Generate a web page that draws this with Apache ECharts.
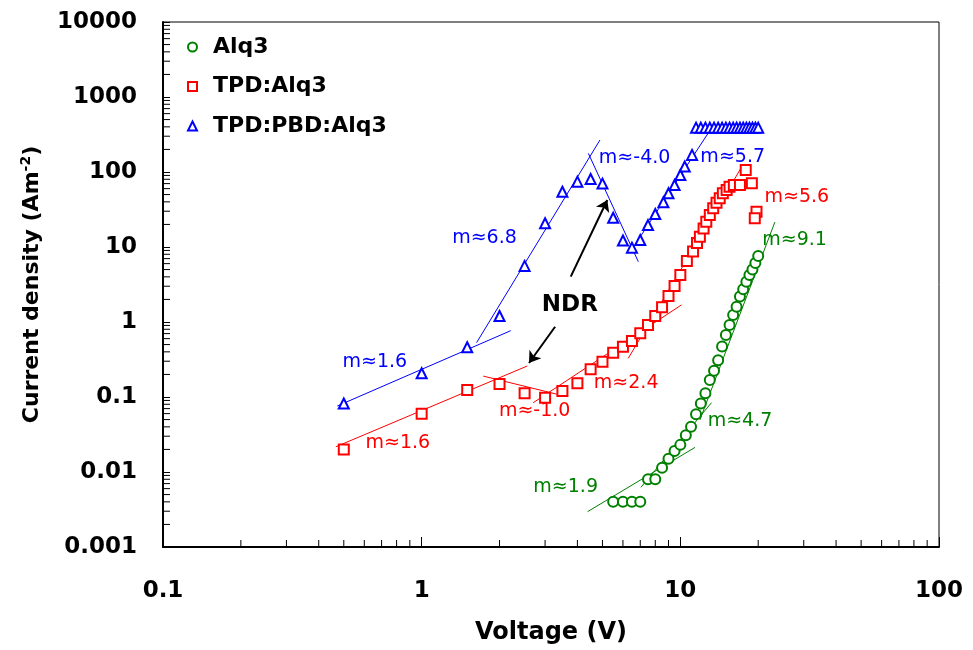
<!DOCTYPE html>
<html>
<head>
<meta charset="utf-8">
<script src="https://cdn.jsdelivr.net/npm/echarts@6/dist/echarts.min.js"></script>
<style>
  html, body { margin: 0; padding: 0; background: #fff; }
  #chart { width: 973px; height: 650px; }
</style>
</head>
<body>
<div id="chart"></div>
<script>
// data (V in volts, J in A/m^2)
const alq3V = [5.5, 6, 6.5, 7, 7.5, 8, 8.5, 9, 9.5, 10, 10.5, 11, 11.5, 12, 12.5, 13, 13.5, 14, 14.5, 15, 15.5, 16, 16.5, 17, 17.5, 18, 18.5, 19, 19.5, 20]
const alq3J = [0.004, 0.004, 0.004, 0.004, 0.008, 0.008, 0.0114, 0.015, 0.019, 0.023, 0.031, 0.040, 0.059, 0.082, 0.112, 0.168, 0.224, 0.31, 0.47, 0.67, 0.91, 1.24, 1.6, 2.18, 2.73, 3.45, 4.23, 5.0, 6.1, 7.6]

const tpdV = [0.5, 1, 1.5, 2, 2.5, 3, 3.5, 4, 4.5, 5, 5.5, 6, 6.5, 7, 7.5, 8, 8.5, 9, 9.5, 10, 10.6, 11.2, 11.6, 11.9, 12.3, 12.6, 13, 13.4, 13.8, 14.2, 14.6, 15.1, 15.5, 16.1, 17, 17.9, 18.9, 19.7, 19.4]
const tpdJ = [0.02, 0.06, 0.124, 0.149, 0.112, 0.098, 0.12, 0.152, 0.234, 0.296, 0.39, 0.469, 0.558, 0.707, 0.912, 1.2, 1.57, 2.22, 3.02, 4.23, 6.5, 8.7, 11.3, 13.7, 17.7, 21.7, 26.7, 32.8, 39, 44.6, 52, 57.5, 63.7, 67, 67, 106, 70.6, 29.6, 24.2]

const pbdV = [0.5, 1, 1.5, 2, 2.5, 3, 3.5, 4, 4.5, 5, 5.5, 6, 6.5, 7, 7.5, 8, 8.6, 9, 9.5, 10, 10.4, 11.1, 11.5, 12, 12.5, 13, 13.5, 14, 14.5, 15, 15.5, 16, 16.5, 17, 17.5, 18, 18.5, 19, 19.5, 20]
const pbdJ = [0.082, 0.207, 0.46, 1.2, 5.6, 20.7, 54.6, 74.3, 80.7, 70, 24.5, 12.2, 9.8, 12.4, 19.6, 27.5, 39.5, 52, 67, 91, 118, 169, 390, 390, 390, 390, 390, 390, 390, 390, 390, 390, 390, 390, 390, 390, 390, 390, 390, 390]

// fitted slope lines, pairs of [V, J]
const fitBlue = [[[0.472, 0.0759], [2.21, 0.766]], [[1.63, 0.53], [4.89, 267]], [[4.41, 177], [6.88, 6.37]], [[6.48, 9.12], [12.8, 328]]]
const fitRed = [[[0.466, 0.0217], [2.56, 0.259]], [[1.73, 0.19], [3.33, 0.109]], [[2.7, 0.084], [10.1, 1.69]], [[6.29, 0.328], [17.3, 118]]]
const fitGreen = [[[4.38, 0.00296], [11.4, 0.0213]], [[7.04, 0.00625], [13.2, 0.084]], [[11.9, 0.0494], [23.2, 21.5]]]

// slope notes: text, V, J (left edge of text)
const notesBlue = [['m≈1.6', 0.492, 0.293], ['m≈6.8', 1.306, 13.2], ['m≈-4.0', 4.82, 154], ['m≈5.7', 11.9, 156]]
const notesRed = [['m≈1.6', 0.604, 0.0244], ['m≈-1.0', 1.98, 0.065], ['m≈2.4', 4.61, 0.154], ['m≈5.6', 21.05, 46.4]]
const notesGreen = [['m≈1.9', 2.69, 0.0063], ['m≈4.7', 12.7, 0.0479], ['m≈9.1', 20.65, 12.4]]
const ndrAt = [3.74, 1.69]
const ndrArrows = [[[3.77, 4.02], [5.22, 42.4]], [[3.28, 0.865], [2.6, 0.284]]]

// axis ticks
const minorMult = [2, 3, 4, 5, 6, 7, 8, 9]
const xDecades = [0.1, 1, 10]
const yDecades = [0.001, 0.01, 0.1, 1, 10, 100, 1000]
const xMin = 0.1, xMax = 100, yMin = 0.001, yMax = 10000

const FONT = 'DejaVu Sans'
const GREEN = '#008000', RED = '#ff0000', BLUE = '#0000ff'

const zip = (a, b) => a.map((v, i) => [v, b[i]])
const minorOf = (decs) => {
    let out = []
    decs.forEach((d) => minorMult.forEach((m) => out.push(+(d * m).toPrecision(3))))
    return out
}
const fmt = (v) => {
    const e = Math.round(Math.log10(v))
    return e < 0 ? v.toFixed(-e) : String(Math.round(v))
}

const scatter = (name, symbol, color, data) => ({
    name: name,
    type: 'scatter',
    symbol: symbol,
    symbolSize: 10,
    itemStyle: { color: color, borderColor: color, borderWidth: 1.2, opacity: 1 },
    data: data,
    z: 3
})

const fits = (list, color) => list.map((seg) => ({
    type: 'line',
    data: seg,
    showSymbol: false,
    symbol: 'none',
    silent: true,
    lineStyle: { color: color, width: 1 },
    z: 2
}))

const notes = (list, color) => ({
    type: 'scatter',
    symbolSize: 1,
    silent: true,
    itemStyle: { color: 'transparent', opacity: 1 },
    label: {
        show: true,
        position: 'right',
        distance: 0,
        formatter: (p) => p.data.text,
        color: color,
        fontFamily: FONT,
        fontSize: 19
    },
    data: list.map((n) => ({ value: [n[1], n[2]], text: n[0] })),
    z: 4
})

let myChart = echarts.init(document.getElementById('chart'), null, { renderer: 'canvas' })

const option = {
    animation: false,
    backgroundColor: '#fff',
    grid: {
        left: 163, right: 34, top: 22, bottom: 103,
        show: true, borderColor: '#000', borderWidth: 1
    },
    legend: {
        data: ['Alq3', 'TPD:Alq3', 'TPD:PBD:Alq3'],
        orient: 'vertical',
        left: 187,
        top: 35,
        padding: 0,
        itemWidth: 9,
        itemHeight: 9,
        itemGap: 15.5,
        textStyle: {
            fontFamily: FONT, fontWeight: 'bold', fontSize: 22, lineHeight: 24, color: '#000',
            padding: [0, 0, 0, 11]
        }
    },
    xAxis: {
        type: 'log', logBase: 10, min: xMin, max: xMax,
        name: 'Voltage (V)', nameLocation: 'middle', nameGap: 74,
        nameTextStyle: { fontFamily: FONT, fontWeight: 'bold', fontSize: 24, color: '#000' },
        axisLine: { lineStyle: { color: '#000', width: 2 } },
        axisTick: { inside: true, length: 10, lineStyle: { color: '#000', width: 1 } },
        axisLabel: { margin: 33, formatter: fmt, fontFamily: FONT, fontWeight: 'bold', fontSize: 23, color: '#000' },
        splitLine: { show: false }
    },
    yAxis: {
        type: 'log', logBase: 10, min: yMin, max: yMax,
        name: 'Current density (Am{sup|-2})', nameLocation: 'middle', nameGap: 118, nameRotate: 90,
        nameTextStyle: {
            fontFamily: FONT, fontWeight: 'bold', fontSize: 22, color: '#000',
            rich: { sup: { fontFamily: FONT, fontWeight: 'bold', fontSize: 14, color: '#000', verticalAlign: 'top', lineHeight: 26 } }
        },
        axisLine: { lineStyle: { color: '#000', width: 2 } },
        axisTick: { inside: true, length: 7, lineStyle: { color: '#000', width: 1 } },
        axisLabel: { margin: 26, formatter: fmt, fontFamily: FONT, fontWeight: 'bold', fontSize: 23, color: '#000' },
        splitLine: { show: false }
    },
    series: [
        scatter('Alq3', 'emptyCircle', GREEN, zip(alq3V, alq3J)),
        scatter('TPD:Alq3', 'emptyRect', RED, zip(tpdV, tpdJ)),
        scatter('TPD:PBD:Alq3', 'emptyTriangle', BLUE, zip(pbdV, pbdJ)),
        ...fits(fitBlue, BLUE),
        ...fits(fitRed, RED),
        ...fits(fitGreen, GREEN),
        notes(notesBlue, BLUE),
        notes(notesRed, RED),
        notes(notesGreen, GREEN),
        {
            type: 'scatter',
            symbolSize: 1,
            silent: true,
            itemStyle: { color: 'transparent', opacity: 1 },
            label: {
                show: true, position: 'inside', formatter: 'NDR',
                fontFamily: FONT, fontWeight: 'bold', fontSize: 23, color: '#000'
            },
            data: [ndrAt],
            markLine: {
                silent: true,
                symbol: ['none', 'arrow'],
                symbolSize: 11,
                lineStyle: { color: '#000', width: 2, type: 'solid', opacity: 1 },
                label: { show: false },
                data: ndrArrows.map((a) => [{ coord: a[0] }, { coord: a[1] }])
            },
            z: 4
        },
        {
            // minor ticks on the voltage axis
            type: 'custom',
            silent: true,
            data: minorOf(xDecades).map((v) => [v, yMin]),
            renderItem: (params, api) => {
                const p = api.coord([api.value(0), yMin])
                return { type: 'line', shape: { x1: p[0], y1: p[1], x2: p[0], y2: p[1] - 7 }, style: { stroke: '#000', lineWidth: 1 } }
            },
            z: 5
        },
        {
            // minor ticks on the current axis
            type: 'custom',
            silent: true,
            data: minorOf(yDecades).map((v) => [xMin, v]),
            renderItem: (params, api) => {
                const p = api.coord([xMin, api.value(1)])
                return { type: 'line', shape: { x1: p[0], y1: p[1], x2: p[0] + 7, y2: p[1] }, style: { stroke: '#000', lineWidth: 1 } }
            },
            z: 5
        }
    ]
}

myChart.setOption(option)
</script>
</body>
</html>
